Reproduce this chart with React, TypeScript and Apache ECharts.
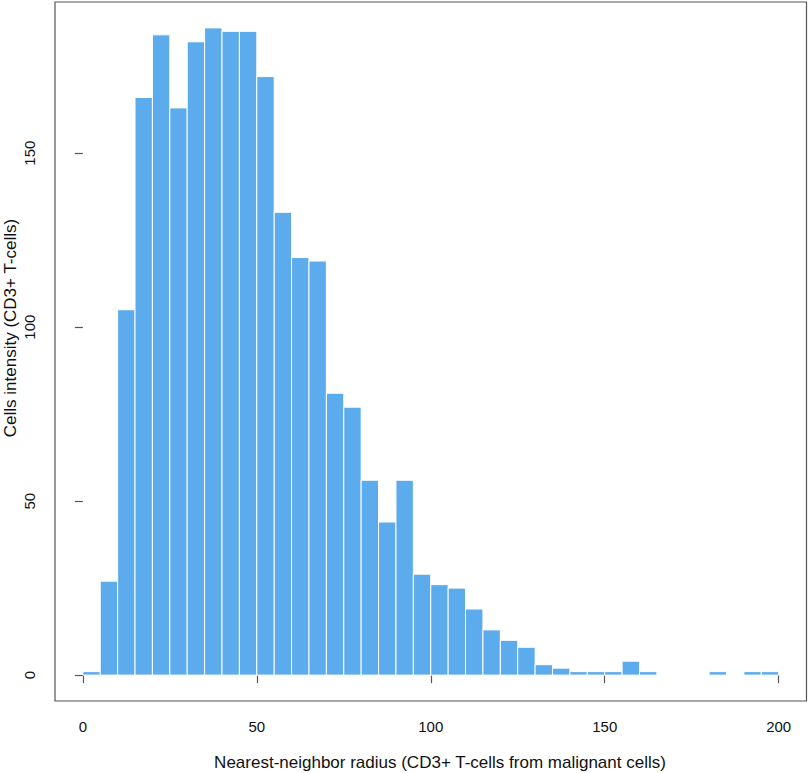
import React, { useEffect, useRef } from "react";
import * as echarts from "echarts";

const binStarts = [0, 5, 10, 15, 20, 25, 30, 35, 40, 45, 50, 55, 60, 65, 70, 75, 80, 85, 90, 95, 100, 105, 110, 115, 120, 125, 130, 135, 140, 145, 150, 155, 160, 165, 170, 175, 180, 185, 190, 195];
const binWidth = 5;
const counts = [1, 27, 105, 166, 184, 163, 182, 186, 185, 185, 172, 133, 120, 119, 81, 77, 56, 44, 56, 29, 26, 25, 19, 13, 10, 8, 3, 2, 1, 1, 1, 4, 1, 0, 0, 0, 1, 0, 1, 1];
const xTicks = [0, 50, 100, 150, 200];
const yTicks = [0, 50, 100, 150];
const xTitle = "Nearest-neighbor radius (CD3+ T-cells from malignant cells)";
const yTitle = "Cells intensity (CD3+ T-cells)";

export default function App() {
  const ref = useRef<HTMLDivElement>(null);
  useEffect(() => {
    if (!ref.current) return;
    const chart = echarts.init(ref.current, null, { renderer: "svg" });
    const data = binStarts.map((s, i) => [s, s + binWidth, counts[i]]);
    const font = "'Liberation Sans', Arial, Helvetica, sans-serif";
    chart.setOption({
      animation: false,
      backgroundColor: "#ffffff",
      grid: {
        left: 55,
        top: 2,
        right: 2.5,
        bottom: 72,
        show: true,
        borderColor: "#555555",
        borderWidth: 1.2,
        backgroundColor: "transparent",
      },
      xAxis: {
        type: "value",
        min: -8,
        max: 208,
        splitLine: { show: false },
        axisLine: { show: false },
        axisTick: {
          show: true,
          customValues: xTicks,
          length: 8,
          inside: false,
          lineStyle: { color: "#555555", width: 1.2 },
        },
        axisLabel: {
          customValues: xTicks,
          margin: 18,
          fontFamily: font,
          fontSize: 15,
          color: "#111111",
        },
      },
      yAxis: {
        type: "value",
        min: -7.44,
        max: 193.44,
        splitLine: { show: false },
        axisLine: { show: false },
        axisTick: {
          show: true,
          customValues: yTicks,
          length: 8,
          inside: false,
          lineStyle: { color: "#555555", width: 1.2 },
        },
        axisLabel: {
          customValues: yTicks,
          rotate: 90,
          margin: 18,
          fontFamily: font,
          fontSize: 15,
          color: "#111111",
        },
      },
      graphic: [
        {
          type: "text",
          x: 440,
          y: 762,
          style: {
            text: xTitle,
            fontFamily: font,
            fontSize: 17,
            fill: "#111111",
            textAlign: "center",
            textVerticalAlign: "middle",
          },
        },
        {
          type: "text",
          x: 10,
          y: 328,
          rotation: Math.PI / 2,
          style: {
            text: yTitle,
            fontFamily: font,
            fontSize: 17,
            fill: "#111111",
            textAlign: "center",
            textVerticalAlign: "middle",
          },
        },
      ],
      series: [
        {
          type: "custom",
          data,
          encode: { x: [0, 1], y: 2 },
          renderItem: (params: any, api: any) => {
            const x0 = api.value(0);
            const x1 = api.value(1);
            const c = api.value(2);
            const p0 = api.coord([x0, c]);
            const p1 = api.coord([x1, 0]);
            return {
              type: "rect",
              shape: {
                x: p0[0],
                y: p0[1],
                width: p1[0] - p0[0],
                height: p1[1] - p0[1],
              },
              style: { fill: "#5CABEC", stroke: "#ffffff", lineWidth: 1 },
            };
          },
        },
      ],
    });
    return () => chart.dispose();
  }, []);
  return (
    <div
      ref={ref}
      style={{ position: "fixed", left: 0, top: 0, width: 809, height: 773 }}
    />
  );
}
